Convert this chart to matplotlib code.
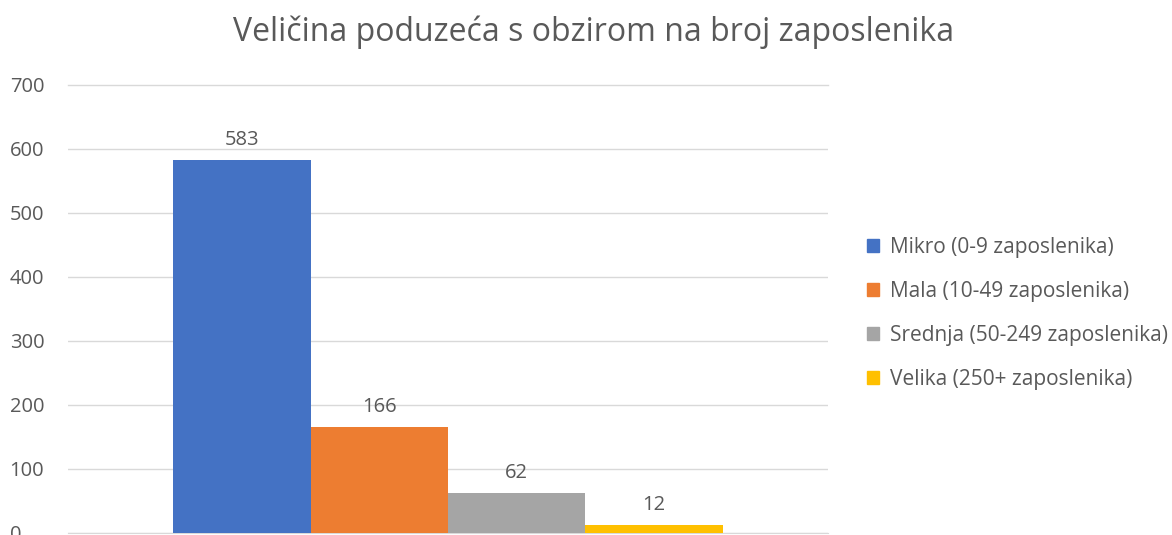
import matplotlib.pyplot as plt
import matplotlib.patches as mpatches

# data
serije = ["Mikro (0-9 zaposlenika)", "Mala (10-49 zaposlenika)",
          "Srednja (50-249 zaposlenika)", "Velika (250+ zaposlenika)"]
vrijednosti = [583, 166, 62, 12]
boje = ["#4472C4", "#ED7D31", "#A5A5A5", "#FFC000"]
y_ticks = [0, 100, 200, 300, 400, 500, 600, 700]

plt.rcParams["font.family"] = ["Open Sans", "DejaVu Sans"]
SIVA = "#595959"

fig = plt.figure(figsize=(11.72, 5.35), dpi=100)
ax = fig.add_axes([68 / 1172, 2 / 535, 760 / 1172, 448 / 535])

pozicije = [i - 1.5 for i in range(len(vrijednosti))]
bars = ax.bar(pozicije, vrijednosti, width=1.0, color=boje, zorder=3)
for bar, val in zip(bars, vrijednosti):
    ax.text(bar.get_x() + bar.get_width() / 2, val + 16, str(val),
            ha="center", va="bottom", fontsize=14.5, color=SIVA)

ax.set_xlim(-2.764, 2.764)
ax.set_ylim(0, 700)
ax.set_yticks(y_ticks)
ax.set_xticks([])
ax.tick_params(axis="y", length=0, labelsize=14.5, labelcolor=SIVA, pad=42)
for lbl in ax.get_yticklabels():
    lbl.set_horizontalalignment("left")
ax.grid(axis="y", color="#D9D9D9", linewidth=1, zorder=0)
for s in ["top", "right", "left"]:
    ax.spines[s].set_visible(False)
ax.spines["bottom"].set_color("#D9D9D9")
ax.yaxis.get_major_ticks()[-1].gridline.set_clip_on(False)

fig.text(594 / 1172, 1 - 32 / 535, "Veličina poduzeća s obzirom na broj zaposlenika",
         ha="center", va="center", fontsize=23, color=SIVA)

patches = [mpatches.Patch(color=boje[i], label=serije[i]) for i in range(len(serije))]
fig.legend(handles=patches, loc="upper left", bbox_to_anchor=(848 / 1172, 1 - 218 / 535),
           frameon=False, fontsize=15, labelcolor=SIVA, handlelength=0.6,
           handleheight=0.6, handletextpad=0.5, labelspacing=1.1)

plt.savefig("out.png", dpi=100)
